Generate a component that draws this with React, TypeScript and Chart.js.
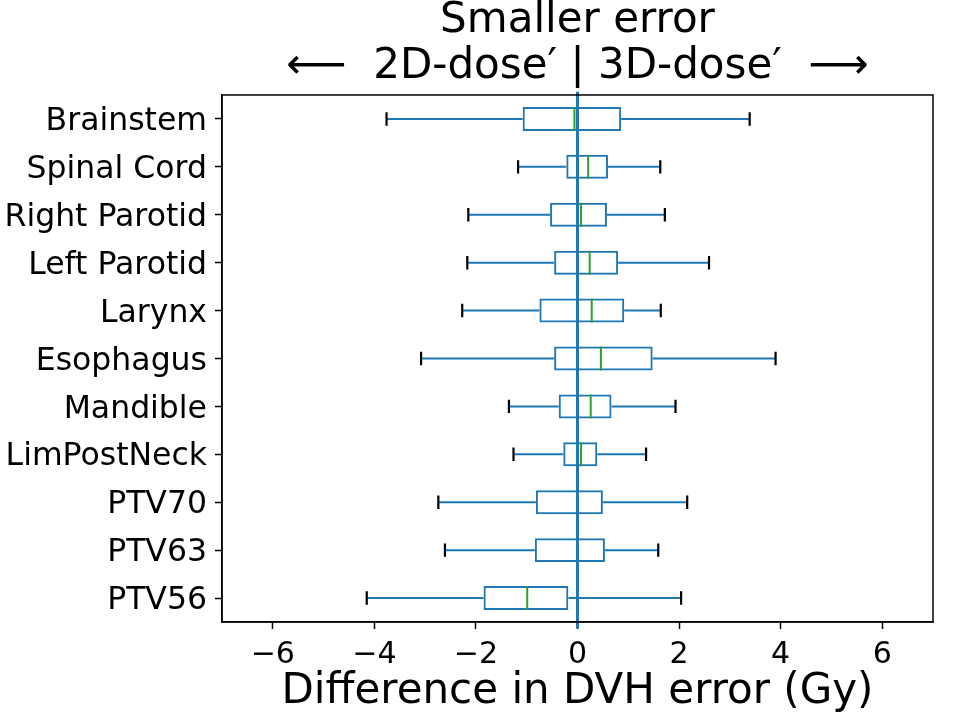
import React, { useEffect, useRef } from "react";
import { Chart, registerables } from "chart.js";

Chart.register(...registerables);

const categories = [
  "Brainstem",
  "Spinal Cord",
  "Right Parotid",
  "Left Parotid",
  "Larynx",
  "Esophagus",
  "Mandible",
  "LimPostNeck",
  "PTV70",
  "PTV63",
  "PTV56",
];
const whiskerLow = [-3.76, -1.17, -2.15, -2.17, -2.27, -3.08, -1.35, -1.26, -2.74, -2.61, -4.15];
const q1 = [-1.08, -0.22, -0.54, -0.46, -0.75, -0.46, -0.37, -0.28, -0.82, -0.84, -1.85];
const median = [-0.06, 0.21, 0.07, 0.24, 0.28, 0.46, 0.26, 0.07, 0.01, -0.01, -0.99];
const q3 = [0.86, 0.6, 0.58, 0.8, 0.92, 1.48, 0.67, 0.39, 0.5, 0.54, -0.18];
const whiskerHigh = [3.39, 1.63, 1.72, 2.59, 1.64, 3.9, 1.93, 1.35, 2.16, 1.59, 2.04];
const xTicks = [-6, -4, -2, 0, 2, 4, 6];
const titleLines = ["Smaller error", "\u27F5  2D-dose\u2032 | 3D-dose\u2032  \u27F6"];
const xTitle = "Difference in DVH error (Gy)";

const BLUE = "#1f77b4";
const GREEN = "#2ca02c";

const boxPlugin = {
  id: "boxExtras",
  afterDatasetsDraw(chart: any) {
    const { ctx, scales, chartArea } = chart;
    const xs = scales.x;
    const ys = scales.y;
    const meta = chart.getDatasetMeta(0);
    ctx.save();
    categories.forEach((_, i) => {
      const y = ys.getPixelForValue(i);
      const bar = meta.data[i];
      const half = bar ? bar.height / 2 : 12;
      const capHalf = half * 0.56;
      // whiskers
      ctx.strokeStyle = BLUE;
      ctx.lineWidth = 2;
      ctx.beginPath();
      ctx.moveTo(xs.getPixelForValue(whiskerLow[i]), y);
      ctx.lineTo(xs.getPixelForValue(q1[i]), y);
      ctx.moveTo(xs.getPixelForValue(q3[i]), y);
      ctx.lineTo(xs.getPixelForValue(whiskerHigh[i]), y);
      ctx.stroke();
      // caps
      ctx.strokeStyle = "#000";
      ctx.lineWidth = 2.2;
      ctx.beginPath();
      [whiskerLow[i], whiskerHigh[i]].forEach((v) => {
        const px = xs.getPixelForValue(v);
        ctx.moveTo(px, y - capHalf);
        ctx.lineTo(px, y + capHalf);
      });
      ctx.stroke();
      // median
      ctx.strokeStyle = GREEN;
      ctx.lineWidth = 2;
      ctx.beginPath();
      const mx = xs.getPixelForValue(median[i]);
      ctx.moveTo(mx, y - half);
      ctx.lineTo(mx, y + half);
      ctx.stroke();
    });
    // zero line
    ctx.strokeStyle = BLUE;
    ctx.lineWidth = 3;
    ctx.beginPath();
    const zx = xs.getPixelForValue(0);
    ctx.moveTo(zx, ys.getPixelForValue(-0.57));
    ctx.lineTo(zx, ys.getPixelForValue(10.63));
    ctx.stroke();
    // frame
    ctx.strokeStyle = "#000";
    ctx.lineWidth = 1.5;
    ctx.strokeRect(
      chartArea.left,
      chartArea.top,
      chartArea.right - chartArea.left,
      chartArea.bottom - chartArea.top
    );
    ctx.restore();
  },
};

export default function App() {
  const ref = useRef<HTMLCanvasElement | null>(null);
  useEffect(() => {
    if (!ref.current) return;
    Chart.defaults.font.family = "'DejaVu Sans', sans-serif";
    Chart.defaults.color = "#000";
    const chart = new Chart(ref.current, {
      type: "bar",
      data: {
        labels: categories,
        datasets: [
          {
            data: categories.map((_, i) => [q1[i], q3[i]]) as any,
            backgroundColor: "rgba(0,0,0,0)",
            borderColor: BLUE,
            borderWidth: 2,
            borderSkipped: false,
            barPercentage: 0.5,
            categoryPercentage: 1,
          },
        ],
      },
      options: {
        indexAxis: "y",
        animation: false,
        responsive: false,
        maintainAspectRatio: false,
        devicePixelRatio: 1,
        layout: { padding: { left: 0, right: 28, top: 0, bottom: 0 } },
        plugins: {
          legend: { display: false },
          tooltip: { enabled: false },
          title: {
            display: true,
            text: titleLines,
            fullSize: false,
            color: "#000",
            font: { size: 42, weight: "normal", lineHeight: 1.095 },
            padding: { top: -2, bottom: 5 },
          },
        },
        scales: {
          x: {
            type: "linear",
            min: -7,
            max: 7,
            afterBuildTicks: (s: any) => {
              s.ticks = xTicks.map((v) => ({ value: v }));
            },
            afterFit: (s: any) => {
              s.height = 97;
            },
            ticks: {
              font: { size: 30 },
              color: "#000",
              padding: 8,
              maxRotation: 0,
              callback: (v: any) => (Number(v) < 0 ? "\u2212" + Math.abs(Number(v)) : String(v)),
            },
            grid: {
              display: true,
              drawOnChartArea: false,
              drawTicks: true,
              tickLength: 7,
              tickColor: "#000",
              tickWidth: 1.5,
            },
            border: { display: true, color: "#000", width: 1.5 },
            title: {
              display: true,
              text: xTitle,
              color: "#000",
              font: { size: 42, lineHeight: 1.2 },
              padding: { top: 0, bottom: 2 },
            },
          },
          y: {
            type: "category",
            afterFit: (s: any) => {
              s.width = 222;
            },
            ticks: { font: { size: 31.5 }, color: "#000", padding: 8, labelOffset: 3 },
            grid: {
              display: true,
              offset: false,
              drawOnChartArea: false,
              drawTicks: true,
              tickLength: 7,
              tickColor: "#000",
              tickWidth: 1.5,
            },
            border: { display: true, color: "#000", width: 1.5 },
          },
        },
      },
      plugins: [boxPlugin],
    });
    return () => chart.destroy();
  }, []);
  return (
    <div style={{ position: "fixed", left: 0, top: 0, width: 961, height: 719, background: "#fff" }}>
      <canvas ref={ref} width={961} height={719} />
    </div>
  );
}
